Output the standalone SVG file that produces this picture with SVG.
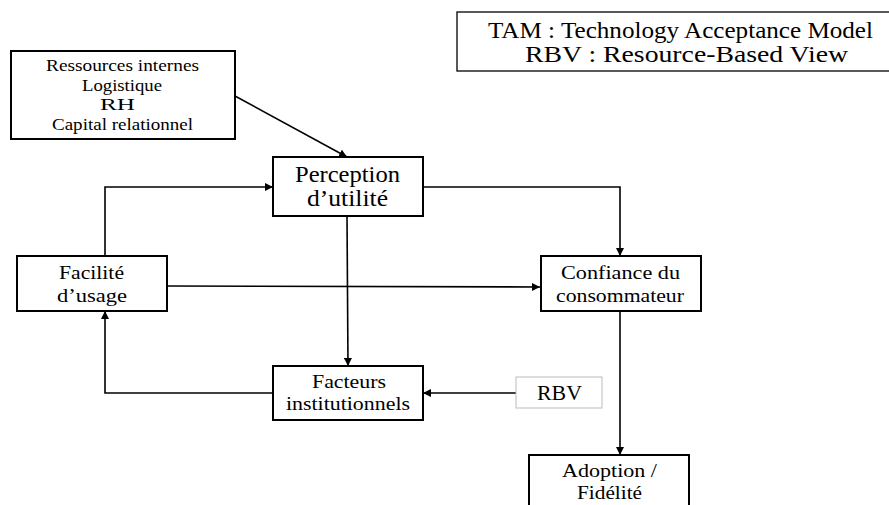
<svg xmlns="http://www.w3.org/2000/svg" width="889" height="505" viewBox="0 0 889 505">
<style>
.box{fill:#fff;stroke:#000;stroke-width:2}
.t{font-family:'Liberation Serif',serif;fill:#000;text-anchor:middle}
.c{fill:none;stroke:#000;stroke-width:1.6}
</style>
<defs>
<marker id="ah" viewBox="0 0 10 10" refX="10" refY="5" markerWidth="8" markerHeight="8" markerUnits="userSpaceOnUse" orient="auto">
<path d="M0,0 L10,5 L0,10 z" fill="#000"/>
</marker>
</defs>
<rect width="889" height="505" fill="#fff"/>
<g id="legend">
<rect x="457" y="12" width="440" height="59" fill="#fff" stroke="#000" stroke-width="1.3"/>
<text class="t" x="680.5" y="38" font-size="24" textLength="385" lengthAdjust="spacingAndGlyphs">TAM : Technology Acceptance Model</text>
<text class="t" x="686.5" y="62" font-size="24" textLength="323" lengthAdjust="spacingAndGlyphs">RBV : Resource-Based View</text>
</g>
<g id="connectors">
<line class="c" x1="235" y1="96" x2="347" y2="157" marker-end="url(#ah)"/>
<polyline class="c" points="105,256 105,187 273,187" marker-end="url(#ah)"/>
<polyline class="c" points="423,187 620,187 620,256" marker-end="url(#ah)"/>
<line class="c" x1="167" y1="286" x2="540" y2="287" marker-end="url(#ah)"/>
<line class="c" x1="347" y1="216" x2="348" y2="366" marker-end="url(#ah)"/>
<polyline class="c" points="273,393 105,393 105,311" marker-end="url(#ah)"/>
<line class="c" x1="516" y1="393" x2="423" y2="393" marker-end="url(#ah)"/>
<line class="c" x1="620" y1="311" x2="620" y2="455" marker-end="url(#ah)"/>
</g>
<g id="ressources">
<rect class="box" x="11" y="51" width="224" height="88"/>
<text class="t" x="122.5" y="71" font-size="17" textLength="153" lengthAdjust="spacingAndGlyphs">Ressources internes</text>
<text class="t" x="122" y="91" font-size="17" textLength="80" lengthAdjust="spacingAndGlyphs">Logistique</text>
<text class="t" x="117.5" y="110" font-size="17" textLength="35" lengthAdjust="spacingAndGlyphs">RH</text>
<text class="t" x="122.5" y="130" font-size="17" textLength="141" lengthAdjust="spacingAndGlyphs">Capital relationnel</text>
</g>
<g id="perception">
<rect class="box" x="273" y="157" width="150" height="59"/>
<text class="t" x="347.5" y="182" font-size="24" textLength="105" lengthAdjust="spacingAndGlyphs">Perception</text>
<text class="t" x="347.5" y="206" font-size="24" textLength="81" lengthAdjust="spacingAndGlyphs">d’utilité</text>
</g>
<g id="facilite">
<rect class="box" x="17" y="256" width="150" height="55"/>
<text class="t" x="91.5" y="279" font-size="19" textLength="65" lengthAdjust="spacingAndGlyphs">Facilité</text>
<text class="t" x="92" y="302" font-size="19" textLength="70" lengthAdjust="spacingAndGlyphs">d’usage</text>
</g>
<g id="confiance">
<rect class="box" x="541" y="256" width="160" height="55"/>
<text class="t" x="620.5" y="279" font-size="18" textLength="119" lengthAdjust="spacingAndGlyphs">Confiance du</text>
<text class="t" x="620" y="302" font-size="18" textLength="128" lengthAdjust="spacingAndGlyphs">consommateur</text>
</g>
<g id="facteurs">
<rect class="box" x="273" y="366" width="150" height="54"/>
<text class="t" x="349" y="388" font-size="18" textLength="74" lengthAdjust="spacingAndGlyphs">Facteurs</text>
<text class="t" x="348" y="410" font-size="18" textLength="124" lengthAdjust="spacingAndGlyphs">institutionnels</text>
</g>
<g id="rbv">
<rect x="516" y="377" width="86" height="31" fill="#fff" stroke="#bbb" stroke-width="1"/>
<text class="t" x="559.5" y="400" font-size="20" textLength="45" lengthAdjust="spacingAndGlyphs">RBV</text>
</g>
<g id="adoption">
<rect class="box" x="529" y="455" width="160" height="60"/>
<text class="t" x="609.5" y="477" font-size="18" textLength="95" lengthAdjust="spacingAndGlyphs">Adoption /</text>
<text class="t" x="609.5" y="499" font-size="18" textLength="65" lengthAdjust="spacingAndGlyphs">Fidélité</text>
</g>
</svg>
